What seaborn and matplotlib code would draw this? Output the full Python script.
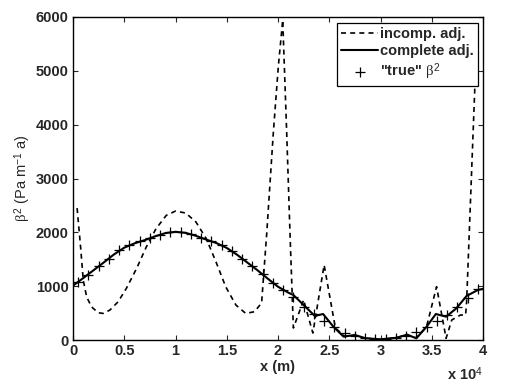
import matplotlib
matplotlib.use("Agg")
import matplotlib.pyplot as plt
import seaborn as sns
from matplotlib.ticker import FuncFormatter

# values (x in metres, beta^2 in Pa m^-1 a)
x_true = [500, 1500, 2500, 3500, 4500, 5500, 6500, 7500, 8500, 9500,
          10500, 11500, 12500, 13500, 14500, 15500, 16500, 17500, 18500, 19500,
          20500, 21500, 22500, 23500, 24500, 25500, 26500, 27500, 28500, 29500,
          30500, 31500, 32500, 33500, 34500, 35500, 36500, 37500, 38500, 39500]
beta_true = [1080, 1216, 1370, 1512, 1667, 1759, 1833, 1901, 1957, 2006,
             2006, 1963, 1901, 1833, 1759, 1654, 1512, 1370, 1222, 1062,
             920, 790, 611, 475, 358, 240, 136, 74, 30, 18,
             18, 31, 74, 142, 235, 358, 464, 620, 780, 940]

x_complete = [0, 1000, 2000, 3000, 4000, 5000, 6000, 7000, 8000, 9000,
              10000, 11000, 12000, 13000, 14000, 15000, 16000, 17000, 18000, 19000,
              20000, 21000, 21500, 22500, 23600, 24400, 25400, 26400, 27500, 28500,
              30000, 31600, 32600, 33500, 34500, 35400, 36400, 37400, 38400, 39500, 40000]
beta_complete = [1010, 1150, 1295, 1440, 1590, 1715, 1795, 1855, 1925, 1985,
                 2010, 1990, 1935, 1865, 1800, 1710, 1585, 1440, 1295, 1140,
                 990, 880, 836, 650, 446, 483, 248, 62, 93, 35,
                 12, 43, 100, 31, 248, 483, 433, 588, 818, 929, 950]

x_incomp = [400, 740, 1000, 1330, 1800, 2460, 2940, 3600, 4400, 5200,
            6200, 7150, 8100, 9100, 10000, 11000, 12000, 13000, 13950, 14900,
            15900, 16850, 17700, 18400, 18900, 19540, 20030, 20460, 20850, 21170,
            21500, 22500, 23400, 24500, 25600, 26500, 27500, 28500, 30000, 31500,
            32500, 33500, 34500, 35470, 36400, 36950, 37800, 38300, 38400, 39200, 39400]
beta_incomp = [2450, 1728, 1111, 802, 617, 506, 494, 556, 710, 957,
               1327, 1728, 2068, 2315, 2395, 2358, 2191, 1883, 1451, 988,
               648, 494, 525, 687, 1980, 3840, 5077, 5944, 3840, 1982,
               223, 743, 130, 1393, 223, 70, 85, 30, 10, 40,
               95, 40, 250, 990, 31, 372, 464, 464, 700, 4676, 5300]

sns.set_style("ticks")
plt.rcParams['font.family'] = ['Liberation Sans', 'DejaVu Sans']
plt.rcParams['mathtext.fontset'] = 'custom'
plt.rcParams['mathtext.rm'] = 'Liberation Sans'
plt.rcParams['mathtext.it'] = 'Liberation Serif'
plt.rcParams['mathtext.bf'] = 'Liberation Sans:bold'
plt.rcParams['lines.scale_dashes'] = False

fig = plt.figure(figsize=(5.25, 3.84), dpi=100)
ax = fig.add_axes([73 / 525, 1 - 340 / 384, 410 / 525, 323 / 384])

sns.lineplot(x=x_incomp, y=beta_incomp, ax=ax, color='black', linewidth=1.2,
             linestyle=(0, (3.6, 3.0)), label='incomp. adj.', sort=False)
sns.lineplot(x=x_complete, y=beta_complete, ax=ax, color='black', linewidth=1.5,
             label='complete adj.', sort=False)
sns.scatterplot(x=x_true, y=beta_true, ax=ax, marker='+', s=50, color='black',
                linewidth=0.9, label='"true" $\\beta^2$', zorder=3)

ax.set_xlim(0, 40000)
ax.set_ylim(0, 6000)
ax.set_xticks([0, 5000, 10000, 15000, 20000, 25000, 30000, 35000, 40000])
ax.set_yticks([0, 1000, 2000, 3000, 4000, 5000, 6000])
ax.xaxis.set_major_formatter(FuncFormatter(lambda v, p: f"{v / 1e4:g}"))

ax.tick_params(direction='in', length=3.6, width=0.8, top=True, right=True,
               labelsize=10.5, pad=3)
for lab in ax.get_xticklabels() + ax.get_yticklabels():
    lab.set_fontweight('bold')
for sp in ax.spines.values():
    sp.set_visible(True)
    sp.set_linewidth(1.0)
    sp.set_color('black')

ax.set_xlabel('x (m)', fontsize=10.5, fontweight='bold', labelpad=1)
ax.set_ylabel('$\\beta^2$ (Pa m$^{-1}$ a)', fontsize=10.5, labelpad=2)
ax.text(1.0, -0.124, 'x 10$^{4}$', transform=ax.transAxes, ha='right',
        va='baseline', fontsize=10.5, fontweight='bold')

leg = ax.legend(loc='upper right', bbox_to_anchor=(0.988, 0.982), frameon=True,
                fancybox=False, framealpha=1, edgecolor='black',
                prop={'weight': 'bold', 'size': 10.5}, handlelength=2.5,
                handletextpad=0.15, labelspacing=0.2, borderpad=0.3,
                borderaxespad=0, scatterpoints=1)
leg.get_frame().set_linewidth(0.9)

fig.savefig('out.png', dpi=100)
